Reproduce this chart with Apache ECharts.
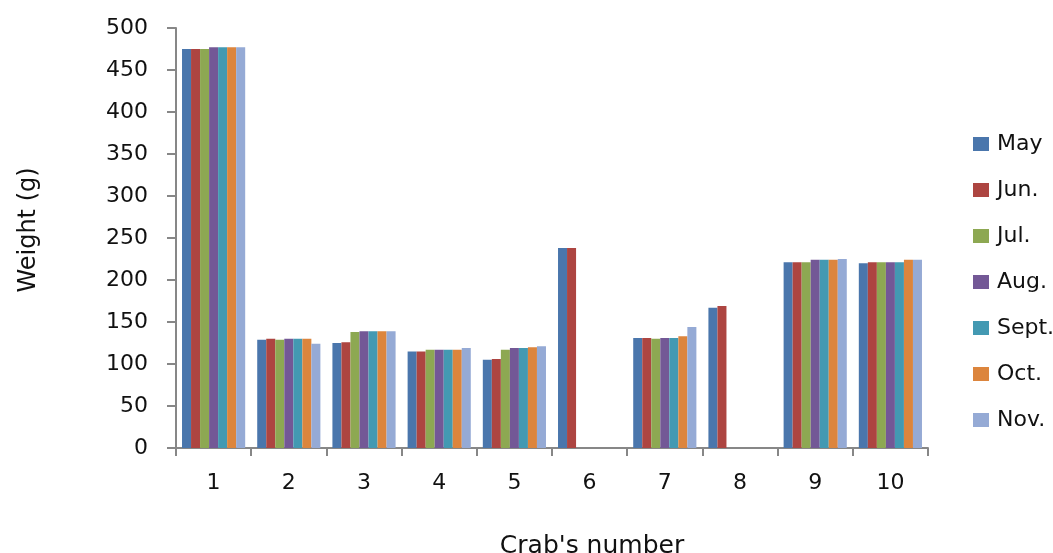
<!DOCTYPE html>
<html>
<head>
<meta charset="utf-8">
<script src="https://cdn.jsdelivr.net/npm/echarts@6/dist/echarts.min.js"></script>
<style>
  html, body { margin: 0; padding: 0; background: #fff; }
  #chart { width: 1053px; height: 553px; }
</style>
</head>
<body>
<div id="chart"></div>
<script>
// Crab weights (g) per month
const crabs = ['1', '2', '3', '4', '5', '6', '7', '8', '9', '10'];
const months = ['May', 'Jun.', 'Jul.', 'Aug.', 'Sept.', 'Oct.', 'Nov.'];
const may  = [475, 129, 125, 115, 105, 238, 131, 167, 221, 220];
const jun  = [475, 130, 126, 115, 106, 238, 131, 169, 221, 221];
const jul  = [475, 129, 138, 117, 117, '-', 130, '-', 221, 221];
const aug  = [477, 130, 139, 117, 119, '-', 131, '-', 224, 221];
const sept = [477, 130, 139, 117, 119, '-', 131, '-', 224, 221];
const oct  = [477, 130, 139, 117, 120, '-', 133, '-', 224, 224];
const nov  = [477, 124, 139, 119, 121, '-', 144, '-', 225, 224];
const yTicks = [0, 50, 100, 150, 200, 250, 300, 350, 400, 450, 500];

const monthValues = [may, jun, jul, aug, sept, oct, nov];
const colors = ['#4A76AC', '#AD4541', '#8DA852', '#735896', '#4399B2', '#DC853D', '#95AAD5'];
const font = 'DejaVu Sans';

const chart = echarts.init(document.getElementById('chart'), null, { renderer: 'canvas' });
chart.setOption({
  animation: false,
  backgroundColor: '#ffffff',
  color: colors,
  textStyle: { fontFamily: font },
  grid: {
    left: 176, right: 125, top: 28, bottom: 105,
    containLabel: false,
    outerBoundsMode: 'none'
  },
  legend: {
    orient: 'vertical',
    left: 968,
    top: 128,
    itemWidth: 16,
    itemHeight: 14,
    itemGap: 24,
    icon: 'rect',
    data: months,
    textStyle: { fontFamily: font, fontSize: 22, color: '#111', padding: [0, 0, 0, 3] }
  },
  xAxis: {
    type: 'category',
    data: crabs,
    name: "Crab's number",
    nameLocation: 'middle',
    nameGap: 86,
    nameTextStyle: { fontFamily: font, fontSize: 25, color: '#111', padding: [0, 0, 0, 80] },
    axisLine: { lineStyle: { color: '#878787', width: 2 } },
    axisTick: { show: true, length: 8, lineStyle: { color: '#878787', width: 2 } },
    axisLabel: { margin: 24, fontFamily: font, fontSize: 22, color: '#111' },
    splitLine: { show: false }
  },
  yAxis: {
    type: 'value',
    min: yTicks[0],
    max: yTicks[yTicks.length - 1],
    interval: yTicks[1] - yTicks[0],
    name: 'Weight (g)',
    nameLocation: 'middle',
    nameGap: 135,
    nameRotate: 90,
    nameTextStyle: { fontFamily: font, fontSize: 24, color: '#111', padding: [0, 0, 0, 16] },
    axisLine: { show: true, lineStyle: { color: '#878787', width: 2 } },
    axisTick: { show: true, length: 9, lineStyle: { color: '#878787', width: 2 } },
    axisLabel: { margin: 28, fontFamily: font, fontSize: 22, color: '#111' },
    splitLine: { show: false }
  },
  series: months.map((m, i) => ({
    name: m,
    type: 'bar',
    data: monthValues[i],
    barGap: '0%',
    barCategoryGap: '16%',
    itemStyle: { color: colors[i] }
  }))
});
</script>
</body>
</html>
